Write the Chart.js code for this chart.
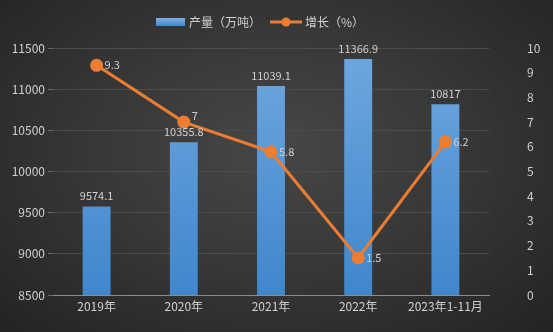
<!DOCTYPE html>
<html>
<head>
<meta charset="utf-8">
<script src="https://cdn.jsdelivr.net/npm/chart.js@4.4.0/dist/chart.umd.min.js"></script>
<style>
  html, body { margin: 0; padding: 0; }
  body {
    width: 553px; height: 332px; overflow: hidden;
    background: radial-gradient(ellipse at 50% 45%, #474747 0%, #383838 45%, #232323 100%);
  }
  #wrap { width: 553px; height: 332px; }
</style>
</head>
<body>
<div id="wrap"><canvas id="combinedChart" width="553" height="332"></canvas></div>
<script>
// categories and series
const years = ['2019年', '2020年', '2021年', '2022年', '2023年1-11月'];
const output = [9574.1, 10355.8, 11039.1, 11366.9, 10817];   // 产量（万吨）
const growth = [9.3, 7, 5.8, 1.5, 6.2];                       // 增长（%）
const leftTicks = [8500, 9000, 9500, 10000, 10500, 11000, 11500];
const rightTicks = [0, 1, 2, 3, 4, 5, 6, 7, 8, 9, 10];

const FONT = '"Noto Sans CJK SC", "Noto Sans", sans-serif';
const TEXT = '#d0d0d0';
const ORANGE = '#ed7d31';

// bar fill: light blue on top, deeper at the bottom
function barFill(context) {
    const chart = context.chart;
    const area = chart.chartArea;
    if (!area) return '#5b9bd5';
    const g = chart.ctx.createLinearGradient(0, area.top, 0, area.bottom);
    g.addColorStop(0, '#6fa7e0');
    g.addColorStop(1, '#3f87cc');
    return g;
}

// value labels + custom legend
const labelPlugin = {
    id: 'labels',
    afterDatasetsDraw(chart) {
        const ctx = chart.ctx;
        ctx.save();
        ctx.font = '11px ' + FONT;
        ctx.fillStyle = TEXT;
        // bar labels above bars
        ctx.textAlign = 'center';
        ctx.textBaseline = 'bottom';
        chart.getDatasetMeta(0).data.forEach((bar, i) => {
            ctx.fillText(String(output[i]), bar.x, bar.y - 5);
        });
        // line labels right of points
        ctx.textAlign = 'left';
        ctx.textBaseline = 'middle';
        chart.getDatasetMeta(1).data.forEach((pt, i) => {
            const dy = i === 1 ? -6 : 0;
            ctx.fillText(String(growth[i]), pt.x + 8, pt.y + dy);
        });

        // legend
        ctx.font = '12px ' + FONT;
        ctx.textBaseline = 'middle';
        const ly = 22;
        const g = ctx.createLinearGradient(0, ly - 4, 0, ly + 4);
        g.addColorStop(0, '#7eb1e3');
        g.addColorStop(1, '#3f87cc');
        ctx.fillStyle = g;
        ctx.fillRect(156, ly - 4, 29, 8);
        ctx.fillStyle = TEXT;
        ctx.fillText('产量（万吨）', 189, ly);
        ctx.strokeStyle = ORANGE;
        ctx.lineWidth = 3;
        ctx.beginPath();
        ctx.moveTo(270, ly);
        ctx.lineTo(302, ly);
        ctx.stroke();
        ctx.fillStyle = ORANGE;
        ctx.beginPath();
        ctx.arc(286, ly, 4.5, 0, Math.PI * 2);
        ctx.fill();
        ctx.fillStyle = TEXT;
        ctx.fillText('增长（%）', 305, ly);
        ctx.restore();
    }
};

new Chart(document.getElementById('combinedChart').getContext('2d'), {
    type: 'bar',
    data: {
        labels: years,
        datasets: [
            {
                label: '产量（万吨）',
                data: output,
                backgroundColor: barFill,
                borderWidth: 0,
                categoryPercentage: 1,
                barPercentage: 0.32,
                yAxisID: 'y',
                order: 2
            },
            {
                type: 'line',
                label: '增长（%）',
                data: growth,
                borderColor: ORANGE,
                backgroundColor: ORANGE,
                borderWidth: 3,
                pointRadius: 5,
                pointHoverRadius: 5,
                tension: 0,
                yAxisID: 'y1',
                order: 1
            }
        ]
    },
    options: {
        responsive: false,
        animation: false,
        layout: { padding: { top: 48, bottom: 0, left: 0, right: 0 } },
        plugins: {
            legend: { display: false },
            tooltip: { enabled: false }
        },
        scales: {
            x: {
                grid: { display: false, drawTicks: false },
                border: { color: '#8c8c8c', width: 1 },
                ticks: { color: TEXT, font: { family: FONT, size: 12 }, padding: 4, maxRotation: 0 },
                afterFit(axis) { axis.height = 37; }
            },
            y: {
                position: 'left',
                min: 8500,
                max: 11500,
                afterBuildTicks(axis) { axis.ticks = leftTicks.map(v => ({ value: v })); },
                afterFit(axis) { axis.width = 53; },
                grid: { color: '#4c4c4c', drawTicks: true, tickLength: 5, tickColor: '#6a6a6a' },
                border: { display: false },
                ticks: {
                    color: TEXT, font: { family: FONT, size: 12 }, padding: 3,
                    callback: function (value) { return String(value); }
                }
            },
            y1: {
                position: 'right',
                min: 0,
                max: 10,
                afterBuildTicks(axis) { axis.ticks = rightTicks.map(v => ({ value: v })); },
                // large label offset, but keep it out of the vertical layout padding
                afterFit(axis) { axis.width = 64; axis.paddingTop = 7; axis.paddingBottom = 7; },
                grid: { display: false, drawTicks: false },
                border: { display: false },
                ticks: {
                    color: TEXT, font: { family: FONT, size: 12 }, padding: 38,
                    callback: function (value) { return String(value); }
                }
            }
        }
    },
    plugins: [labelPlugin]
});
</script>
</body>
</html>
